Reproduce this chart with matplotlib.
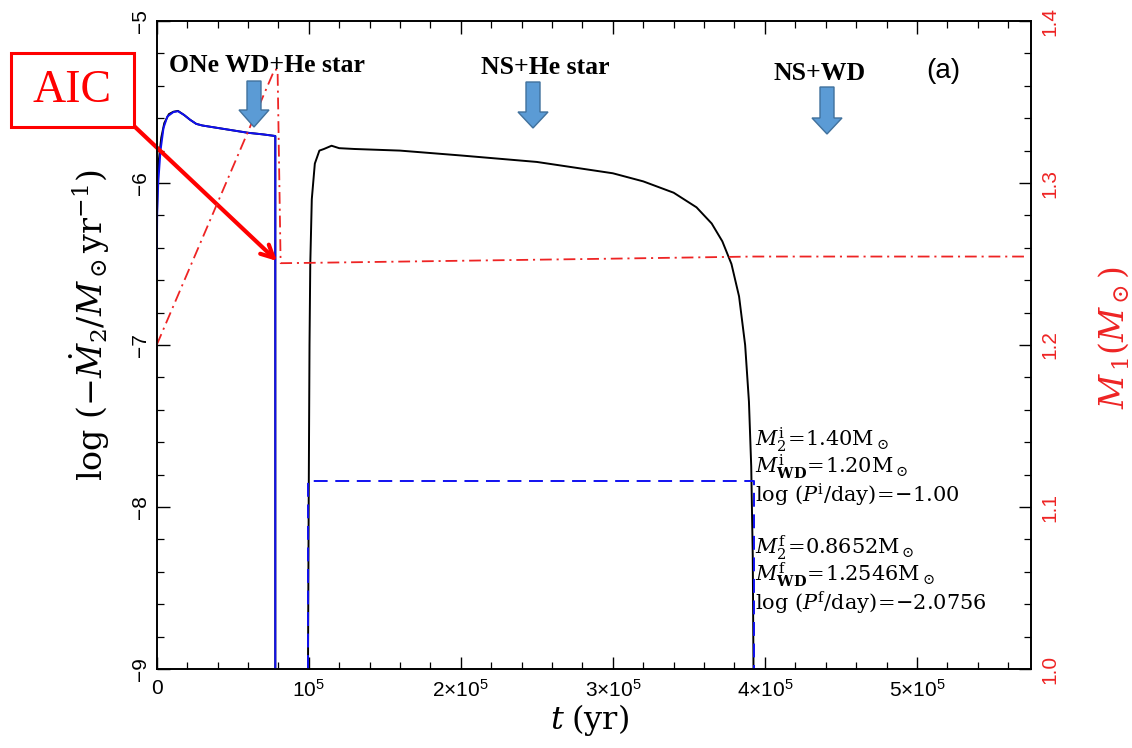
import numpy as np
import matplotlib
matplotlib.use("Agg")
import matplotlib.pyplot as plt
from matplotlib.patches import Polygon, Rectangle

# ---------------- data ----------------
# phase 1 (ONe WD + He star): log(-Mdot2)
t1_black = [0, 500, 1500, 3000, 5000, 8000, 11000, 14000, 18000, 22000, 26000, 30000,
            40000, 50000, 60000, 70000, 78000, 78000]
m1_black = [-6.30, -6.00, -5.85, -5.72, -5.63, -5.575, -5.56, -5.555, -5.58, -5.61, -5.635,
            -5.645, -5.66, -5.675, -5.69, -5.70, -5.71, -9.0]
t1_blue = [0, 300, 1000, 2500, 4500, 7000, 11000, 14000, 18000, 22000, 26000, 30000,
           40000, 50000, 60000, 70000, 78000, 78000]
m1_blue = [-6.58, -6.20, -6.00, -5.80, -5.66, -5.59, -5.562, -5.557, -5.58, -5.61, -5.635,
           -5.645, -5.66, -5.675, -5.69, -5.70, -5.71, -9.0]
# phase 2 (NS + He star)
t2_black = [99500, 100000, 100500, 101000, 102000, 104000, 107000, 110000, 115000, 120000,
            130000, 160000, 200000, 250000, 300000, 320000, 340000, 355000, 365000, 372000,
            378000, 383000, 387000, 389500, 391000, 392000, 392500]
m2_black = [-9.0, -7.9, -7.0, -6.5, -6.1, -5.88, -5.80, -5.79, -5.77, -5.785,
            -5.79, -5.80, -5.83, -5.87, -5.94, -5.99, -6.06, -6.15, -6.25, -6.36,
            -6.50, -6.70, -7.00, -7.35, -7.75, -8.30, -9.0]
t2_blue = [99500, 99500, 392500, 392500]
m2_blue = [-9.0, -7.84, -7.84, -9.0]
# accretor mass M1 (right axis)
t_M1 = [0, 77500, 79500, 81500, 100000, 200000, 300000, 392000, 572000]
M1 = [1.20, 1.370, 1.370, 1.2505, 1.2507, 1.2520, 1.2533, 1.2546, 1.2546]

xticks = [0, 1e5, 2e5, 3e5, 4e5, 5e5]
xticklabels = ['0', '10$^5$', '2×10$^5$', '3×10$^5$', '4×10$^5$', '5×10$^5$']
yticks_left = [-9, -8, -7, -6, -5]
yticks_right = [1.0, 1.1, 1.2, 1.3, 1.4]

phase_labels = ['ONe WD+He star', 'NS+He star', 'NS+WD']
info_lines = [r'$M_2^{\rm i}\!=\!1.40{\rm M}_\odot$',
              r'$M_{\mathbf{WD}}^{\rm i}\!=\!1.20{\rm M}_\odot$',
              r'$\log\,(P^{\rm i}/{\rm day})\!=\!{-}1.00$',
              r'$M_2^{\rm f}\!=\!0.8652{\rm M}_\odot$',
              r'$M_{\mathbf{WD}}^{\rm f}\!=\!1.2546{\rm M}_\odot$',
              r'$\log\,(P^{\rm f}/{\rm day})\!=\!{-}2.0756$']

# ---------------- style ----------------
plt.rcParams['font.family'] = ['Liberation Sans', 'DejaVu Sans']
plt.rcParams['mathtext.fontset'] = 'custom'
plt.rcParams['mathtext.rm'] = 'Liberation Sans'
plt.rcParams['mathtext.it'] = 'Liberation Sans:italic'
plt.rcParams['mathtext.bf'] = 'Liberation Sans:bold'
plt.rcParams['lines.scale_dashes'] = False

W, H = 1132, 748
fig = plt.figure(figsize=(W / 100, H / 100), dpi=100)

def fx(px):
    return px / W

def fy(py):
    return 1 - py / H

ax = fig.add_axes([fx(156.7), fy(669), fx(1031) - fx(156.7), fy(21) - fy(669)])
ax2 = ax.twinx()

RED = '#EE2424'

ax.plot(t1_black, m1_black, color='black', lw=1.4, zorder=3)
ax.plot(t1_blue, m1_blue, color='#1010F0', lw=1.4, zorder=4)
ax.plot(t2_black, m2_black, color='black', lw=1.4, zorder=3)
ax.plot(t2_blue, m2_blue, color='#1010F0', lw=1.4, dashes=(10, 5.5), zorder=4)
ax2.plot(t_M1, M1, color=RED, lw=1.3, dashes=(8.5, 3.5, 1.5, 3.5), zorder=2)

ax.set_xlim(0, 5.75e5)
ax.set_ylim(-9, -5)
ax2.set_ylim(1.0, 1.4)

ax.set_xticks(xticks)
ax.set_xticklabels(xticklabels)
ax.set_xticks(np.arange(0, 5.75e5, 2e4), minor=True)
ax.set_yticks(yticks_left)
ax.set_yticks(np.arange(-9, -4.99, 0.2), minor=True)
ax2.set_yticks(yticks_right)
ax2.set_yticks(np.arange(1.0, 1.401, 0.02), minor=True)

for a in (ax, ax2):
    for s in a.spines.values():
        s.set_linewidth(1.2)

ax.tick_params(axis='x', which='both', direction='in', top=True, bottom=True,
               labelsize=15, pad=7)
ax.tick_params(axis='x', which='major', length=9, width=1)
ax.tick_params(axis='x', which='minor', length=5, width=0.9)
ax.tick_params(axis='y', which='both', direction='in', left=True, right=False,
               labelsize=15, pad=5)
ax.tick_params(axis='y', which='major', length=9, width=1)
ax.tick_params(axis='y', which='minor', length=5, width=0.9)
ax2.tick_params(axis='y', which='both', direction='in', right=True, labelsize=15,
                labelcolor=RED, pad=7)
ax2.tick_params(axis='y', which='major', length=9, width=1)
ax2.tick_params(axis='y', which='minor', length=5, width=0.9)
for lab in ax.get_yticklabels():
    lab.set_rotation(90)
    lab.set_va('center')
for lab in ax2.get_yticklabels():
    lab.set_rotation(90)
    lab.set_va('center')

# axis labels
fig.text(fx(90), fy(325), r'$\log\,(-\dot{M}_2/M_\odot{\rm yr}^{-1})$', rotation=90,
         ha='center', va='center', fontsize=24, math_fontfamily='dejavuserif')
fig.text(fx(590), fy(720), r'$t\;({\rm yr})$', ha='center', va='center', fontsize=23,
         math_fontfamily='dejavuserif')
fig.text(fx(1114), fy(338), r'$M_{\,1}(M_\odot)$', rotation=90, ha='center', va='center',
         fontsize=24, color=RED, math_fontfamily='dejavuserif')

# phase labels
serif_bold = dict(family='Liberation Serif', fontweight='bold', fontsize=18.5,
                  ha='center', va='center')
fig.text(fx(267), fy(65), phase_labels[0], **serif_bold)
fig.text(fx(545), fy(67), phase_labels[1], **serif_bold)
fig.text(fx(820), fy(74), phase_labels[2], **serif_bold)
fig.text(fx(943), fy(71), '(a)', ha='center', va='center', fontsize=20)

# block arrows (pixel geometry)
def block_arrow(cx, top, head_start, tip, shaft_w=14, head_w=30):
    pts = [(cx - shaft_w / 2, top), (cx + shaft_w / 2, top), (cx + shaft_w / 2, head_start),
           (cx + head_w / 2, head_start), (cx, tip), (cx - head_w / 2, head_start),
           (cx - shaft_w / 2, head_start)]
    pts = [(fx(x), fy(y)) for x, y in pts]
    fig.patches.append(Polygon(pts, closed=True, facecolor='#5B9BD5', edgecolor='#41719C',
                               lw=1.0, transform=fig.transFigure, zorder=5))

block_arrow(254, 81, 110, 127)
block_arrow(533, 82, 112, 128)
block_arrow(827, 87, 118, 134)

# info text
ys = [440, 467, 495, 548, 575, 603]
for y, s in zip(ys, info_lines):
    fig.text(fx(755), fy(y), s, ha='left', va='center', fontsize=15,
             math_fontfamily='dejavuserif')

# AIC box & arrow
fig.patches.append(Rectangle((fx(11), fy(127)), fx(134) - fx(11), fy(53) - fy(127),
                             facecolor='white', edgecolor='#FF0000', lw=2.2,
                             transform=fig.transFigure, zorder=6))
fig.text(fx(72), fy(91), 'AIC', ha='center', va='center', fontsize=33,
         family='Liberation Serif', color='#FF0000', zorder=7)
ax.annotate('', xy=(fx(277), fy(261)), xytext=(fx(134), fy(126)),
            xycoords='figure fraction', textcoords='figure fraction',
            arrowprops=dict(arrowstyle='->,head_length=0.9,head_width=0.45',
                            color='#FF0000', lw=3, shrinkA=0, shrinkB=0), zorder=8)

fig.savefig('out.png', dpi=100)
